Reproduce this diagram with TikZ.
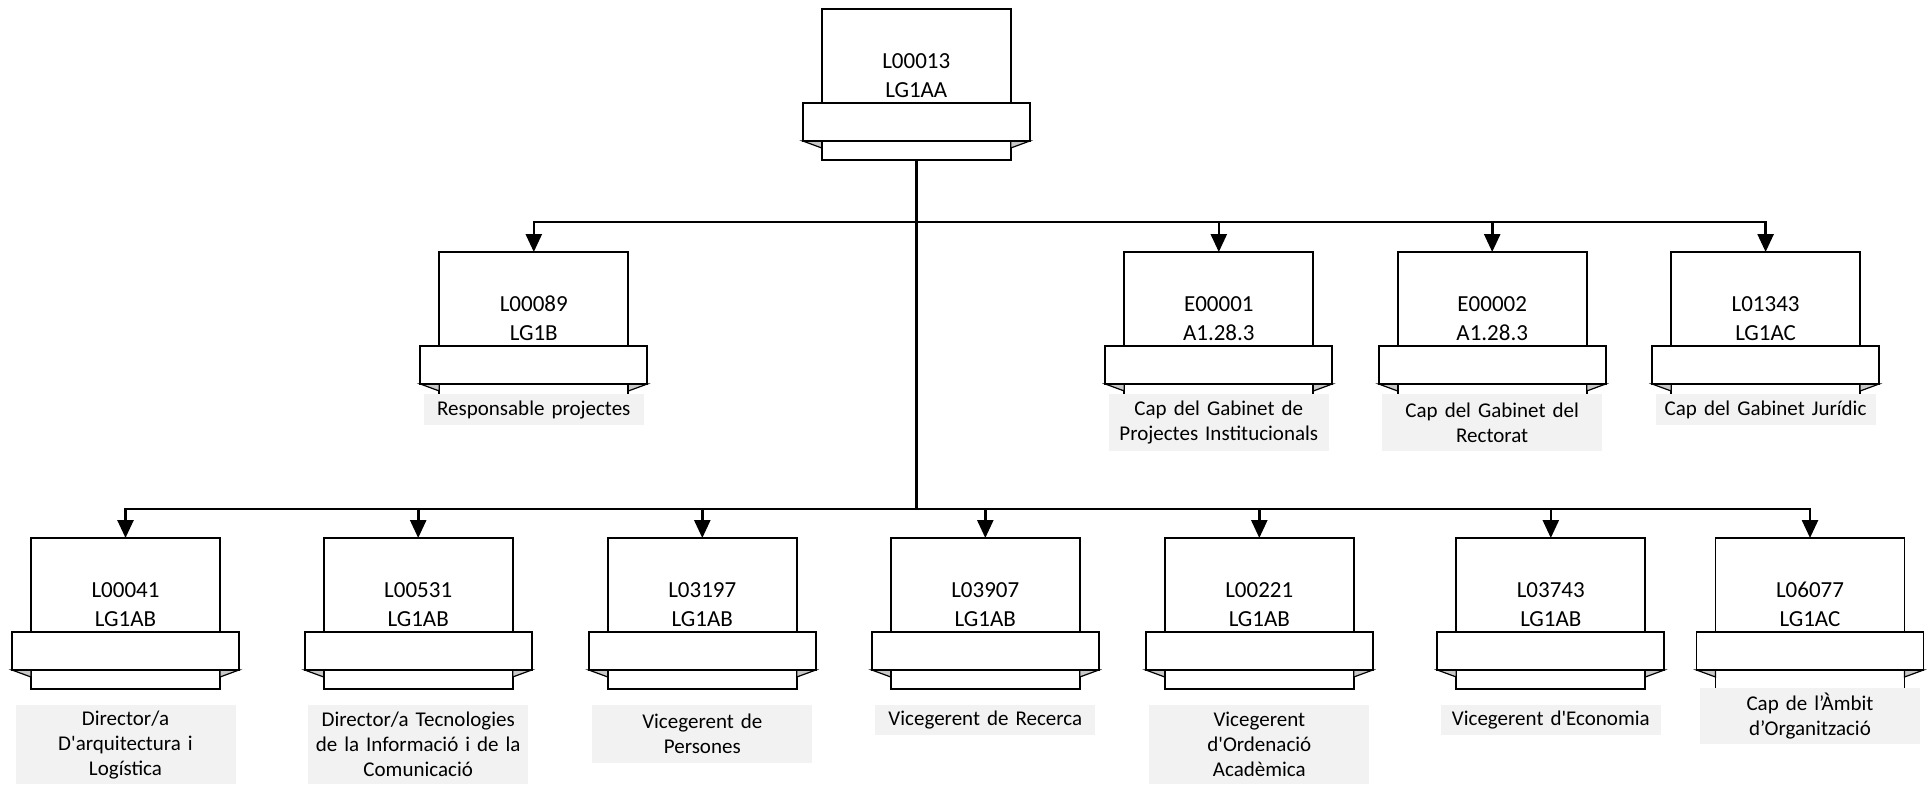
\documentclass[tikz,border=0pt]{standalone}
\usepackage{fontspec}
\newfontfamily\calfont{Carlito}
\usetikzlibrary{arrows.meta}
\definecolor{lblgray}{HTML}{F2F2F2}
\definecolor{foldgray}{HTML}{C8C8C8}
\tikzset{
  shp/.style={draw, line width=1.8pt, fill=white, inner sep=0pt, outer sep=0pt, anchor=north},
  boxst/.style={shp, minimum width=189pt, minimum height=94pt},
  bannerst/.style={shp, minimum width=227pt, minimum height=38pt},
  tabst/.style={shp, minimum width=189pt, minimum height=21pt},
  fold/.style={fill=foldgray, draw=black, line width=1.2pt, line join=miter},
  boxtext/.style={inner sep=0pt, anchor=base, font=\calfont\fontsize{23}{29}\selectfont},
  lbl/.style={fill=lblgray, minimum width=220pt, text width=216pt, align=center, anchor=north, inner sep=0pt, font=\calfont\fontsize{21}{25}\selectfont},
  conn/.style={line width=2.6pt, line cap=rect},
  arr/.style={line width=2.6pt, -{Triangle[length=18pt,width=16pt]}},
}
\newcommand\orgunit[5]{%
  \node[tabst] (#1-tab) at (#2,#3+130) {};
  \filldraw[fold] (#2-113.5,#3+132) -- (#2-94.5,#3+132) -- (#2-94.5,#3+139) -- cycle;
  \filldraw[fold] (#2+113.5,#3+132) -- (#2+94.5,#3+132) -- (#2+94.5,#3+139) -- cycle;
  \node[boxst] (#1) at (#2,#3) {};
  \node[bannerst] (#1-ban) at (#2,#3+94) {};
  \node[boxtext] (#1-a) at (#2,#3+59) {#4};
  \node[boxtext] (#1-b) at (#2,#3+88) {#5};
}
\newcommand\orglabel[5]{%
  \node[lbl, minimum height=#4] (#1) at (#2,#3) {#5};
}
\begin{document}
\begin{tikzpicture}[x=1pt,y=-1pt]
\useasboundingbox (0,0) rectangle (1928,785);
% top
\orgunit{n0}{916.3}{9}{L00013}{LG1AA}
% middle row
\orgunit{m1}{533.8}{252}{L00089}{LG1B}
\orgunit{m2}{1218.8}{252}{E00001}{A1.28.3}
\orgunit{m3}{1492.2}{252}{E00002}{A1.28.3}
\orgunit{m4}{1765.6}{252}{L01343}{LG1AC}
\orglabel{m1-l}{533.8}{394}{31}{Responsable projectes}
\orglabel{m2-l}{1218.8}{394}{57}{Cap del Gabinet de\\Projectes Institucionals}
\orglabel{m3-l}{1492.2}{394}{57}{Cap del Gabinet del\\Rectorat}
\orglabel{m4-l}{1765.6}{394}{31}{Cap del Gabinet Jurídic}
% bottom row
\orgunit{b1}{125.5}{538}{L00041}{LG1AB}
\orgunit{b2}{418.2}{538}{L00531}{LG1AB}
\orgunit{b3}{702.3}{538}{L03197}{LG1AB}
\orgunit{b4}{985.3}{538}{L03907}{LG1AB}
\orgunit{b5}{1259.3}{538}{L00221}{LG1AB}
\orgunit{b6}{1550.8}{538}{L03743}{LG1AB}
\orgunit{b7}{1810}{538}{L06077}{LG1AC}
\orglabel{b1-l}{125.5}{705}{79}{Director/a\\D'arquitectura i\\Logística}
\orglabel{b2-l}{418.2}{705}{79}{Director/a Tecnologies\\de la Informació i de la\\Comunicació}
\orglabel{b3-l}{702.3}{705}{58}{Vicegerent de\\Persones}
\orglabel{b4-l}{985.3}{705}{30}{Vicegerent de Recerca}
\orglabel{b5-l}{1259.3}{705}{79}{Vicegerent\\d'Ordenació\\Acadèmica}
\orglabel{b6-l}{1550.8}{705}{30}{Vicegerent d'Economia}
\orglabel{b7-l}{1810}{688}{56}{Cap de l’Àmbit\\d’Organització}
% connectors
\coordinate (busM) at (916.3,222);
\coordinate (busB) at (916.3,509);
\draw[conn] (n0-tab.south) -- (n0-tab.south |- busB);
\draw[conn] (m1.north |- busM) -- (m4.north |- busM);
\draw[conn] (b1.north |- busB) -- (b7.north |- busB);
\foreach \n in {m1,m2,m3,m4}{\draw[arr] (\n.north |- busM) -- (\n.north);}
\foreach \n in {b1,b2,b3,b4,b5,b6,b7}{\draw[arr] (\n.north |- busB) -- (\n.north);}
\end{tikzpicture}
\end{document}
